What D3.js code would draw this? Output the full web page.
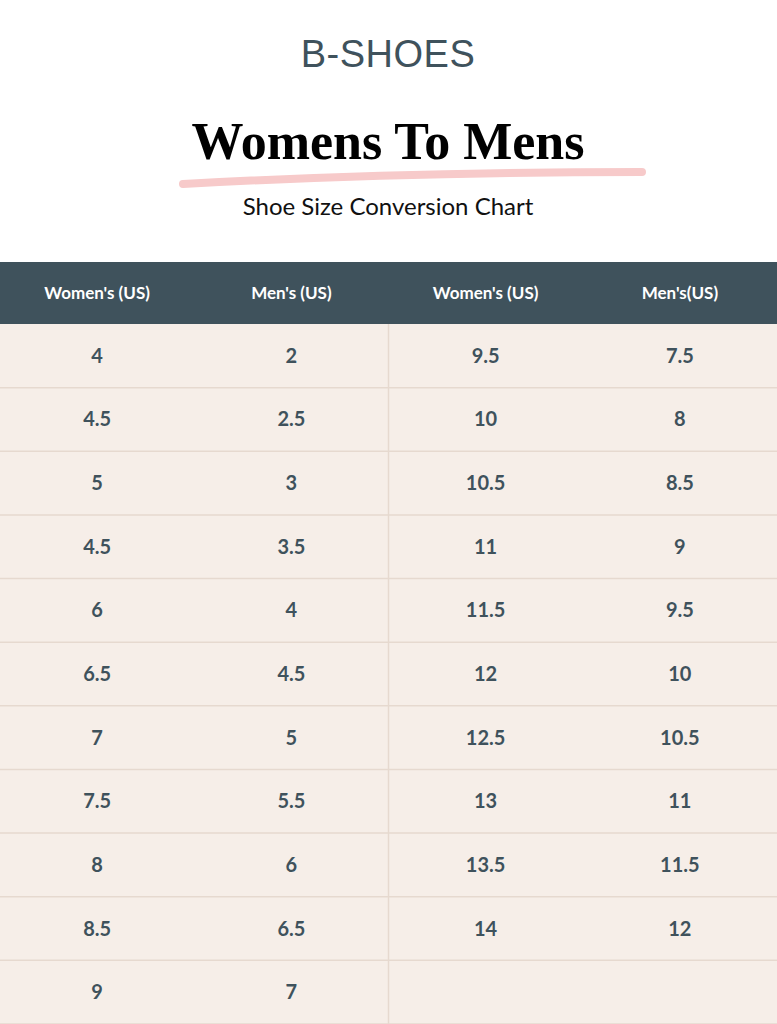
<!DOCTYPE html><html><head><meta charset="utf-8"><script src="https://cdn.jsdelivr.net/npm/d3@7"></script>
<style>body{margin:0;background:#fff}</style></head><body><svg id="c" width="777" height="1024"></svg>
<script>
const headers=["Women's (US)","Men's (US)","Women's (US)","Men's(US)"];
const women1=["4","4.5","5","4.5","6","6.5","7","7.5","8","8.5","9"];
const men1=["2","2.5","3","3.5","4","4.5","5","5.5","6","6.5","7"];
const women2=["9.5","10","10.5","11","11.5","12","12.5","13","13.5","14",""];
const men2=["7.5","8","8.5","9","9.5","10","10.5","11","11.5","12",""];
const cols=[women1,men1,women2,men2];
const svg=d3.select("#c");
const dark="#3f525c";
svg.append("text").attr("x",388).attr("y",67).attr("text-anchor","middle").attr("font-family","Liberation Sans, Arial").attr("font-size",38).attr("font-weight",300).attr("fill",dark).attr("letter-spacing",0.5).text("B-SHOES");
svg.append("path").attr("d","M183,184 Q400,172 642,172").attr("stroke","#f7caca").attr("stroke-width",8).attr("fill","none").attr("stroke-linecap","round");
svg.append("text").attr("x",388).attr("y",159).attr("text-anchor","middle").attr("font-family","Liberation Serif, serif").attr("font-weight","bold").attr("font-size",52).attr("fill","#000").text("Womens To Mens");
svg.append("text").attr("x",388).attr("y",215).attr("text-anchor","middle").attr("font-family","Lato, sans-serif").attr("font-size",24).attr("fill","#111").text("Shoe Size Conversion Chart");
const x=d3.scaleBand().domain(d3.range(4)).range([0,777]);
const y=d3.scaleBand().domain(d3.range(11)).range([324,1024]);
svg.append("rect").attr("x",0).attr("y",262).attr("width",777).attr("height",62).attr("fill",dark);
svg.selectAll(".h").data(headers).join("text").attr("x",(d,i)=>x(i)+x.bandwidth()/2).attr("y",299).attr("text-anchor","middle").attr("font-family","Lato, sans-serif").attr("font-weight","bold").attr("font-size",17).attr("fill","#fff").text(d=>d);
svg.append("rect").attr("x",0).attr("y",324).attr("width",777).attr("height",700).attr("fill","#f6eee8");
svg.selectAll(".rl").data(d3.range(1,12)).join("line").attr("x1",0).attr("x2",777).attr("y1",d=>y(d)??1024).attr("y2",d=>y(d)??1024).attr("stroke","#e6d9cf").attr("stroke-width",1.5);
svg.append("line").attr("x1",388.5).attr("x2",388.5).attr("y1",324).attr("y2",1024).attr("stroke","#e6d9cf").attr("stroke-width",1.5);
cols.forEach((c,ci)=>{svg.selectAll(".c"+ci).data(c).join("text").attr("x",x(ci)+x.bandwidth()/2).attr("y",(d,i)=>y(i)+y.bandwidth()/2+7).attr("text-anchor","middle").attr("font-family","Lato, sans-serif").attr("font-weight","bold").attr("font-size",20).attr("fill",dark).text(d=>d);});
</script></body></html>
